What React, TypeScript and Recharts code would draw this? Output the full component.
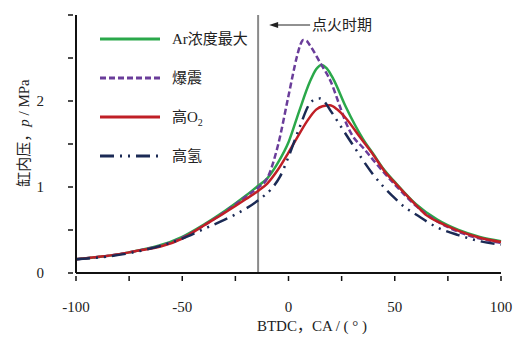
import { Line, LineChart, ReferenceLine, XAxis, YAxis } from 'recharts';

// crank angle (deg, BTDC) and cylinder pressure (MPa) for each case
const caAr = [-100, -75, -50, -40, -30, -20, -15, -10, -5, 0, 5, 10, 13, 15.6, 18, 21, 27, 35, 40, 45, 50, 60, 70, 80, 90, 100];
const pAr = [0.16, 0.24, 0.42, 0.56, 0.72, 0.9, 1.0, 1.1, 1.28, 1.52, 1.88, 2.22, 2.37, 2.42, 2.38, 2.26, 1.93, 1.56, 1.38, 1.2, 1.06, 0.8, 0.62, 0.5, 0.42, 0.37];

const caKnock = [-100, -75, -50, -40, -30, -20, -14, -10, -5, 0, 4, 5.5, 7, 8.5, 10, 15, 20, 24, 27, 30, 35, 40, 50, 60, 70, 80, 90, 100];
const pKnock = [0.16, 0.24, 0.41, 0.55, 0.71, 0.89, 1.0, 1.1, 1.48, 2.06, 2.52, 2.65, 2.71, 2.7, 2.65, 2.44, 2.22, 1.95, 1.75, 1.6, 1.46, 1.31, 1.03, 0.78, 0.6, 0.48, 0.4, 0.35];

const caO2 = [-100, -75, -50, -40, -30, -20, -14, -10, -5, 0, 4, 8.6, 13, 16, 19.5, 23, 27, 33.6, 40, 45, 50, 60, 65, 70, 80, 90, 100];
const pO2 = [0.16, 0.24, 0.4, 0.55, 0.7, 0.86, 0.96, 1.04, 1.2, 1.4, 1.57, 1.76, 1.9, 1.94, 1.95, 1.9, 1.8, 1.58, 1.37, 1.19, 1.05, 0.79, 0.67, 0.6, 0.49, 0.41, 0.36];

const caH2 = [-100, -75, -50, -40, -30, -25, -14, -8, -4, 0, 5, 10, 12.5, 14.8, 17, 20, 30, 40, 50, 55, 60, 70, 80, 90, 100];
const pH2 = [0.16, 0.23, 0.4, 0.51, 0.62, 0.68, 0.85, 0.98, 1.12, 1.35, 1.68, 1.97, 2.02, 2.03, 1.99, 1.88, 1.5, 1.14, 0.87, 0.76, 0.68, 0.53, 0.44, 0.37, 0.33];

const IGNITION = -14.3;

const xTicks = [-100, -75, -50, -25, 0, 25, 50, 75, 100];
const xLabels = [-100, -50, 0, 50, 100];
const yTicks = [0, 0.5, 1, 1.5, 2, 2.5, 3];
const yLabels = [0, 1, 2];

const series = [
 { key: 'ar', name: 'Ar浓度最大', ca: caAr, p: pAr, color: '#2aa84a', dash: undefined },
 { key: 'knock', name: '爆震', ca: caKnock, p: pKnock, color: '#6a3d9a', dash: '6 3' },
 { key: 'o2', name: '高O₂', ca: caO2, p: pO2, color: '#c01f26', dash: undefined },
 { key: 'h2', name: '高氢', ca: caH2, p: pH2, color: '#1b2a55', dash: '14 6 2 6 2 6' },
];

const FONT = "'Liberation Serif', 'DejaVu Serif', 'Noto Sans CJK SC', serif";

function XTick(props: any) {
 const { x, y, payload } = props;
 const show = xLabels.includes(payload.value);
 return (
 <g>
 <line x1={x} x2={x} y1={y} y2={y - 5} stroke="#111" strokeWidth={1.5} />
 {show && (
 <text x={x} y={y + 31} textAnchor="middle" fontSize={15} style={{ fontFamily: FONT }} fill="#222">
 {payload.value}
 </text>
 )}
 </g>
 );
}

function YTick(props: any) {
 const { x, y, payload } = props;
 const show = yLabels.includes(payload.value);
 return (
 <g>
 <line x1={x} x2={x + 5} y1={y} y2={y} stroke="#111" strokeWidth={1.5} />
 {show && (
 <text x={x - 24} y={y + 5} textAnchor="end" fontSize={15} style={{ fontFamily: FONT }} fill="#222">
 {payload.value}
 </text>
 )}
 </g>
 );
}

function IgnitionLabel(props: any) {
 const { viewBox } = props;
 const x0 = viewBox.x + 11;
 const y0 = viewBox.y + 10;
 return (
 <g>
 <line x1={x0 + 6} x2={x0 + 41} y1={y0} y2={y0} stroke="#222" strokeWidth={1} />
 <path d={`M ${x0} ${y0} L ${x0 + 9} ${y0 - 3} L ${x0 + 9} ${y0 + 3} Z`} fill="#222" />
 <text x={x0 + 43} y={y0 + 5} fontSize={15} style={{ fontFamily: FONT }} fill="#222">
 点火时期
 </text>
 </g>
 );
}

function LegendBox() {
 return (
 <svg width={170} height={150} style={{ position: 'absolute', left: 95, top: 25 }}>
 {series.map((s, i) => {
 const y = 14 + i * 39;
 return (
 <g key={s.key}>
 <line x1={5} x2={65} y1={y} y2={y} stroke={s.color} strokeWidth={3} strokeDasharray={s.dash} />
 {s.key === 'o2' ? (
 <text x={77} y={y + 5} fontSize={15} style={{ fontFamily: FONT }} fill="#222">
 高O<tspan fontSize={10} dy={4}>2</tspan>
 </text>
 ) : (
 <text x={77} y={y + 5} fontSize={15} style={{ fontFamily: FONT }} fill="#222">
 {s.name}
 </text>
 )}
 </g>
 );
 })}
 </svg>
 );
}

export default function App() {
 return (
 <div style={{ position: 'absolute', left: 0, top: 0, width: 526, height: 343, background: '#fff' }}>
 <LineChart width={526} height={343} margin={{ top: 15, right: 25, bottom: 0, left: 0 }}>
 <XAxis
 type="number"
 dataKey="ca"
 domain={[-100, 100]}
 ticks={xTicks}
 tickLine={false}
 tick={<XTick />}
 height={70}
 stroke="#111"
 strokeWidth={2}
 allowDuplicatedCategory={false}
 />
 <YAxis
 type="number"
 domain={[0, 3]}
 ticks={yTicks}
 tickLine={false}
 tick={<YTick />}
 width={76}
 stroke="#111"
 strokeWidth={2}
 />
 <ReferenceLine x={IGNITION} stroke="#8a8a8a" strokeWidth={2} label={<IgnitionLabel />} />
 {series.map((s) => (
 <Line
 key={s.key}
 data={s.ca.map((ca, i) => ({ ca, p: s.p[i] }))}
 dataKey="p"
 name={s.name}
 type="monotone"
 stroke={s.color}
 strokeWidth={2.5}
 strokeDasharray={s.dash}
 dot={false}
 activeDot={false}
 isAnimationActive={false}
 />
 ))}
 </LineChart>
 <LegendBox />
 <div
 style={{
 position: 'absolute',
 left: 22,
 top: 133,
 transform: 'translate(-50%, -50%) rotate(-90deg)',
 whiteSpace: 'nowrap',
 fontSize: 15,
 fontFamily: FONT,
 color: '#222',
 }}
 >
 缸内压，<i>p</i> / MPa
 </div>
 <div
 style={{
 position: 'absolute',
 left: 312,
 top: 324,
 transform: 'translate(-50%, -50%)',
 whiteSpace: 'nowrap',
 fontSize: 15,
 fontFamily: FONT,
 color: '#222',
 }}
 >
 BTDC，CA / ( ° )
 </div>
 </div>
 );
}
